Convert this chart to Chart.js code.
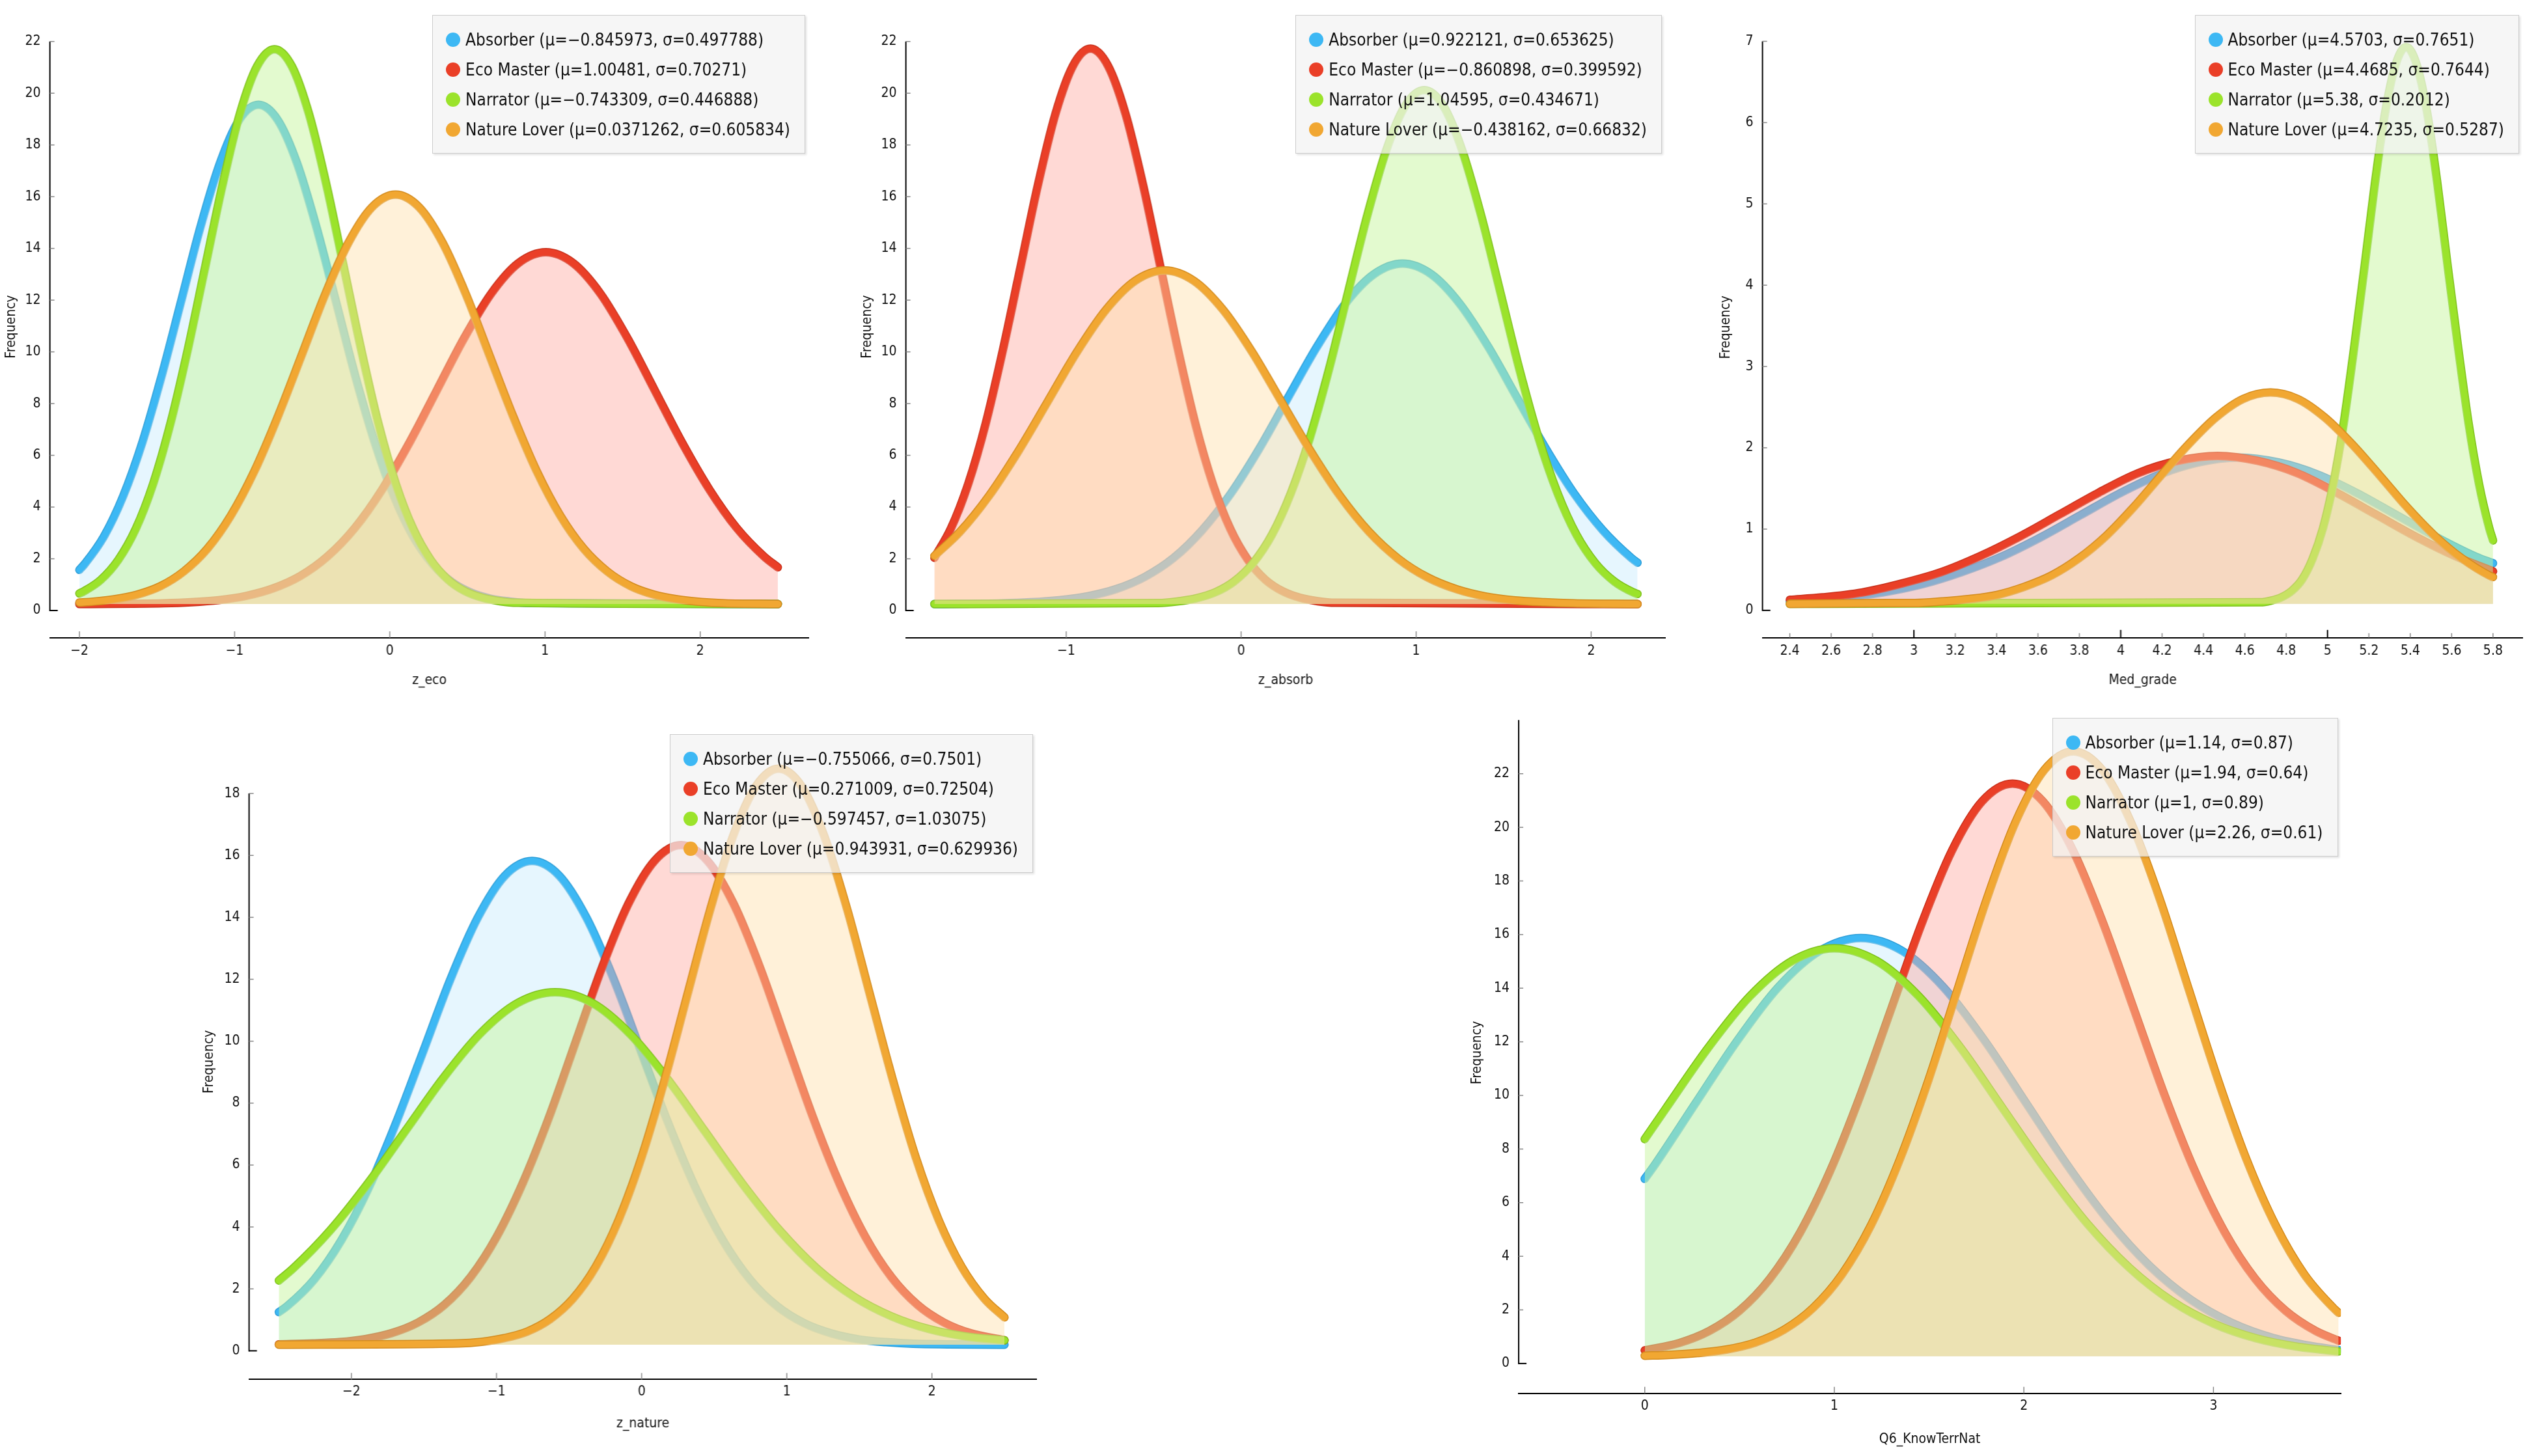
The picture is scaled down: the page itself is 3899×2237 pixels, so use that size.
<!DOCTYPE html>
<html>
<head>
<meta charset="utf-8">
<script src="https://cdn.jsdelivr.net/npm/chart.js@4.4.1/dist/chart.umd.min.js"></script>
<style>
  html, body { margin: 0; padding: 0; background: #fff; overflow: hidden; }
  #stage { position: relative; width: 3899px; height: 2237px; }
  .panel { position: absolute; }
  .legend {
    position: absolute;
    background: rgba(243, 243, 243, 0.72);
    border: 1px solid rgba(200, 200, 200, 0.9);
    box-shadow: 2px 2px 3px rgba(0, 0, 0, 0.12);
    padding: 14px 22px 13px 20px;
    font-family: 'DejaVu Sans Condensed', 'DejaVu Sans', sans-serif;
    font-stretch: condensed;
    font-size: 26px;
    color: #111;
  }
  .legend .row { height: 46px; display: flex; align-items: center; white-space: nowrap; }
  .legend .dot { width: 22px; height: 22px; border-radius: 50%; margin-right: 8px; flex: none; }
</style>
</head>
<body>
<div id="stage"></div>
<script>
// ---- data ----
const groups = ['Absorber', 'Eco Master', 'Narrator', 'Nature Lover'];

// z_eco
const zEcoMu = ['\u22120.845973', '1.00481', '\u22120.743309', '0.0371262'];
const zEcoSigma = ['0.497788', '0.70271', '0.446888', '0.605834'];
const zEcoX = [
  [-2, -1.967, -1.842, -1.718, -1.593, -1.469, -1.344, -1.220, -1.095, -0.971, -0.846, -0.722, -0.597, -0.473, -0.348, -0.224, -0.099, 0.026, 0.150, 0.275, 0.399, 0.523, 0.648, 0.772, 0.897, 2.5],
  [-2, -1.456, -1.280, -1.104, -0.928, -0.753, -0.577, -0.401, -0.225, -0.050, 0.126, 0.302, 0.478, 0.653, 0.829, 1.005, 1.181, 1.357, 1.532, 1.708, 1.884, 2.060, 2.235, 2.411, 2.5],
  [-2, -1.972, -1.861, -1.749, -1.637, -1.525, -1.414, -1.302, -1.190, -1.078, -0.967, -0.855, -0.743, -0.631, -0.520, -0.408, -0.296, -0.184, -0.073, 0.039, 0.151, 0.263, 0.375, 0.486, 0.598, 0.710, 0.822, 2.5],
  [-2, -1.933, -1.781, -1.630, -1.478, -1.327, -1.175, -1.024, -0.872, -0.721, -0.569, -0.418, -0.266, -0.115, 0.037, 0.189, 0.340, 0.492, 0.643, 0.795, 0.946, 1.098, 1.249, 1.401, 1.552, 1.704, 1.855, 2.007, 2.158, 2.5]
];
const zEcoY = [
  [1.57, 1.79, 2.86, 4.42, 6.52, 9.09, 11.96, 14.82, 17.28, 18.96, 19.55, 18.96, 17.28, 14.82, 11.96, 9.09, 6.52, 4.42, 2.86, 1.79, 1.10, 0.69, 0.46, 0.35, 0.29, 0.25],
  [0.25, 0.28, 0.32, 0.40, 0.56, 0.85, 1.33, 2.09, 3.19, 4.67, 6.48, 8.50, 10.52, 12.25, 13.43, 13.85, 13.43, 12.25, 10.52, 8.50, 6.48, 4.67, 3.19, 2.09, 1.67],
  [0.66, 0.74, 1.19, 1.96, 3.15, 4.89, 7.21, 10.07, 13.26, 16.44, 19.18, 21.04, 21.70, 21.04, 19.18, 16.44, 13.26, 10.07, 7.21, 4.89, 3.15, 1.96, 1.19, 0.74, 0.49, 0.36, 0.30, 0.25],
  [0.31, 0.33, 0.43, 0.61, 0.94, 1.51, 2.39, 3.67, 5.39, 7.50, 9.85, 12.20, 14.22, 15.59, 16.08, 15.59, 14.22, 12.20, 9.85, 7.50, 5.39, 3.67, 2.39, 1.51, 0.94, 0.61, 0.43, 0.33, 0.28, 0.25]
];
const zEcoXTicks = [-2, -1, 0, 1, 2];
const zEcoYTicks = [0, 2, 4, 6, 8, 10, 12, 14, 16, 18, 20, 22];

// z_absorb
const zAbsorbMu = ['0.922121', '\u22120.860898', '1.04595', '\u22120.438162'];
const zAbsorbSigma = ['0.653625', '0.399592', '0.434671', '0.66832'];
const zAbsorbX = [
  [-1.753, -1.367, -1.204, -1.040, -0.877, -0.713, -0.550, -0.386, -0.223, -0.059, 0.105, 0.268, 0.432, 0.595, 0.759, 0.922, 1.086, 1.249, 1.413, 1.576, 1.740, 1.903, 2.067, 2.230, 2.265],
  [-1.753, -1.660, -1.560, -1.460, -1.361, -1.261, -1.161, -1.061, -0.961, -0.861, -0.761, -0.661, -0.561, -0.461, -0.361, -0.262, -0.162, -0.062, 0.038, 0.138, 0.238, 0.338, 0.438, 0.538, 2.265],
  [-1.753, -0.475, -0.367, -0.258, -0.149, -0.041, 0.068, 0.177, 0.285, 0.394, 0.503, 0.611, 0.720, 0.829, 0.937, 1.046, 1.155, 1.263, 1.372, 1.481, 1.589, 1.698, 1.807, 1.915, 2.024, 2.133, 2.241, 2.265],
  [-1.753, -1.607, -1.440, -1.273, -1.106, -0.939, -0.772, -0.605, -0.438, -0.271, -0.104, 0.063, 0.230, 0.397, 0.564, 0.731, 0.898, 1.065, 1.232, 1.399, 1.566, 1.733, 1.900, 2.265]
];
const zAbsorbY = [
  [0.25, 0.28, 0.32, 0.40, 0.55, 0.83, 1.30, 2.03, 3.10, 4.52, 6.27, 8.23, 10.18, 11.86, 13.00, 13.41, 13.00, 11.86, 10.18, 8.23, 6.27, 4.52, 3.10, 2.03, 1.85],
  [2.04, 3.15, 4.89, 7.22, 10.08, 13.27, 16.46, 19.20, 21.06, 21.72, 21.06, 19.20, 16.46, 13.27, 10.08, 7.22, 4.89, 3.15, 1.96, 1.19, 0.74, 0.49, 0.36, 0.30, 0.25],
  [0.25, 0.29, 0.35, 0.47, 0.70, 1.12, 1.83, 2.94, 4.55, 6.70, 9.35, 12.30, 15.25, 17.79, 19.51, 20.12, 19.51, 17.79, 15.25, 12.30, 9.35, 6.70, 4.55, 2.94, 1.83, 1.12, 0.70, 0.64],
  [2.11, 3.04, 4.44, 6.16, 8.07, 9.99, 11.63, 12.75, 13.15, 12.75, 11.63, 9.99, 8.07, 6.16, 4.44, 3.04, 2.00, 1.28, 0.82, 0.54, 0.39, 0.32, 0.28, 0.25]
];
const zAbsorbXTicks = [-1, 0, 1, 2];
const zAbsorbYTicks = [0, 2, 4, 6, 8, 10, 12, 14, 16, 18, 20, 22];

// Med_grade
const medMu = ['4.5703', '4.4685', '5.38', '4.7235'];
const medSigma = ['0.7651', '0.7644', '0.2012', '0.5287'];
const medX = [
  [2.4, 2.466, 2.658, 2.849, 3.040, 3.231, 3.423, 3.614, 3.805, 3.996, 4.188, 4.379, 4.570, 4.762, 4.953, 5.144, 5.335, 5.527, 5.718, 5.8],
  [2.4, 2.558, 2.749, 2.940, 3.131, 3.322, 3.513, 3.704, 3.895, 4.086, 4.277, 4.469, 4.660, 4.851, 5.042, 5.233, 5.424, 5.615, 5.8],
  [2.4, 4.676, 4.726, 4.776, 4.827, 4.877, 4.927, 4.978, 5.028, 5.078, 5.128, 5.179, 5.229, 5.279, 5.330, 5.380, 5.430, 5.481, 5.531, 5.581, 5.632, 5.682, 5.732, 5.782, 5.8],
  [2.4, 2.873, 3.005, 3.137, 3.270, 3.402, 3.534, 3.666, 3.798, 3.931, 4.063, 4.195, 4.327, 4.459, 4.591, 4.724, 4.856, 4.988, 5.120, 5.252, 5.384, 5.517, 5.649, 5.781, 5.8]
];
const medY = [
  [0.11, 0.12, 0.16, 0.22, 0.32, 0.47, 0.66, 0.90, 1.17, 1.44, 1.67, 1.82, 1.88, 1.82, 1.67, 1.44, 1.17, 0.90, 0.66, 0.58],
  [0.13, 0.16, 0.22, 0.33, 0.47, 0.67, 0.91, 1.18, 1.45, 1.69, 1.84, 1.90, 1.84, 1.69, 1.45, 1.18, 0.91, 0.67, 0.48],
  [0.08, 0.10, 0.12, 0.16, 0.24, 0.38, 0.63, 1.01, 1.56, 2.30, 3.22, 4.23, 5.25, 6.13, 6.72, 6.93, 6.72, 6.13, 5.25, 4.23, 3.22, 2.30, 1.56, 1.01, 0.86],
  [0.08, 0.09, 0.09, 0.11, 0.14, 0.19, 0.29, 0.43, 0.64, 0.92, 1.27, 1.66, 2.04, 2.37, 2.60, 2.68, 2.60, 2.37, 2.04, 1.66, 1.27, 0.92, 0.64, 0.43, 0.41]
];
const medXTicks = [2.4, 2.6, 2.8, 3, 3.2, 3.4, 3.6, 3.8, 4, 4.2, 4.4, 4.6, 4.8, 5, 5.2, 5.4, 5.6, 5.8];
const medYTicks = [0, 1, 2, 3, 4, 5, 6, 7];

// z_nature
const zNatureMu = ['\u22120.755066', '0.271009', '\u22120.597457', '0.943931'];
const zNatureSigma = ['0.7501', '0.72504', '1.03075', '0.629936'];
const zNatureX = [
  [-2.5, -2.443, -2.255, -2.068, -1.880, -1.693, -1.505, -1.318, -1.130, -0.943, -0.755, -0.567, -0.380, -0.192, -0.005, 0.183, 0.370, 0.558, 0.745, 0.933, 1.120, 1.308, 1.495, 1.683, 1.870, 2.5],
  [-2.5, -2.267, -2.085, -1.904, -1.723, -1.542, -1.360, -1.179, -0.998, -0.817, -0.635, -0.454, -0.273, -0.092, 0.090, 0.271, 0.452, 0.634, 0.815, 0.996, 1.177, 1.359, 1.540, 1.721, 1.902, 2.084, 2.265, 2.5],
  [-2.5, -2.401, -2.144, -1.886, -1.628, -1.370, -1.113, -0.855, -0.597, -0.339, -0.082, 0.176, 0.434, 0.692, 0.949, 1.207, 1.465, 1.723, 1.980, 2.238, 2.5],
  [-2.5, -1.261, -1.104, -0.946, -0.789, -0.631, -0.474, -0.316, -0.159, -0.001, 0.157, 0.314, 0.472, 0.629, 0.787, 0.944, 1.102, 1.259, 1.417, 1.574, 1.732, 1.889, 2.047, 2.204, 2.362, 2.5]
];
const zNatureY = [
  [1.25, 1.44, 2.31, 3.58, 5.27, 7.35, 9.67, 11.99, 13.98, 15.34, 15.82, 15.34, 13.98, 11.99, 9.67, 7.35, 5.27, 3.58, 2.31, 1.44, 0.89, 0.56, 0.37, 0.28, 0.23, 0.20],
  [0.21, 0.24, 0.28, 0.38, 0.57, 0.91, 1.48, 2.38, 3.69, 5.44, 7.58, 9.98, 12.38, 14.43, 15.83, 16.33, 15.83, 14.43, 12.38, 9.98, 7.58, 5.44, 3.69, 2.38, 1.48, 0.91, 0.57, 0.34],
  [2.27, 2.66, 3.90, 5.41, 7.10, 8.79, 10.24, 11.23, 11.58, 11.23, 10.24, 8.79, 7.10, 5.41, 3.90, 2.66, 1.74, 1.11, 0.70, 0.46, 0.34],
  [0.20, 0.24, 0.29, 0.41, 0.62, 1.02, 1.68, 2.72, 4.22, 6.24, 8.72, 11.48, 14.24, 16.61, 18.23, 18.80, 18.23, 16.61, 14.24, 11.48, 8.72, 6.24, 4.22, 2.72, 1.68, 1.08]
];
const zNatureXTicks = [-2, -1, 0, 1, 2];
const zNatureYTicks = [0, 2, 4, 6, 8, 10, 12, 14, 16, 18];

// Q6_KnowTerrNat
const q6Mu = ['1.14', '1.94', '1', '2.26'];
const q6Sigma = ['0.87', '0.64', '0.89', '0.61'];
const q6X = [
  [0, 0.053, 0.270, 0.488, 0.705, 0.923, 1.140, 1.358, 1.575, 1.793, 2.010, 2.228, 2.445, 2.663, 2.880, 3.098, 3.315, 3.533, 3.66],
  [0, 0.180, 0.340, 0.500, 0.660, 0.820, 0.980, 1.140, 1.300, 1.460, 1.620, 1.780, 1.940, 2.100, 2.260, 2.420, 2.580, 2.740, 2.900, 3.060, 3.220, 3.380, 3.540, 3.66],
  [0, 0.110, 0.333, 0.555, 0.778, 1.000, 1.223, 1.445, 1.668, 1.890, 2.113, 2.335, 2.558, 2.780, 3.003, 3.225, 3.448, 3.66],
  [0, 0.125, 0.278, 0.430, 0.583, 0.735, 0.888, 1.040, 1.193, 1.345, 1.498, 1.650, 1.803, 1.955, 2.108, 2.260, 2.413, 2.565, 2.718, 2.870, 3.023, 3.175, 3.328, 3.480, 3.633, 3.66]
];
const q6Y = [
  [6.89, 7.41, 9.73, 12.04, 14.04, 15.39, 15.87, 15.39, 14.04, 12.04, 9.73, 7.41, 5.34, 3.64, 2.38, 1.51, 0.95, 0.63, 0.50],
  [0.49, 0.76, 1.21, 1.97, 3.16, 4.89, 7.21, 10.05, 13.22, 16.39, 19.12, 20.97, 21.63, 20.97, 19.12, 16.39, 13.22, 10.05, 7.21, 4.89, 3.16, 1.97, 1.21, 0.85],
  [8.37, 9.50, 11.76, 13.70, 15.02, 15.49, 15.02, 13.70, 11.76, 9.50, 7.24, 5.21, 3.56, 2.33, 1.48, 0.94, 0.62, 0.45],
  [0.29, 0.32, 0.39, 0.52, 0.78, 1.26, 2.07, 3.32, 5.15, 7.60, 10.60, 13.95, 17.30, 20.18, 22.14, 22.83, 22.14, 20.18, 17.30, 13.95, 10.60, 7.60, 5.15, 3.32, 2.07, 1.89]
];
const q6XTicks = [0, 1, 2, 3];
const q6YTicks = [0, 2, 4, 6, 8, 10, 12, 14, 16, 18, 20, 22];

// ---- styles ----
const lineColors = ['#3db8f4', '#ea3f27', '#9be32b', '#f1a732'];
const rimColors = ['#2f9fd8', '#c9321d', '#7fc21d', '#d48c1f'];
const fillColors = [
  'rgba(200, 236, 252, 0.45)',
  'rgba(255, 160, 150, 0.40)',
  'rgba(200, 245, 160, 0.50)',
  'rgba(255, 225, 170, 0.45)'
];
const FONT = "'DejaVu Sans Condensed', 'DejaVu Sans', sans-serif";
const HALF_LINE = 12.6;   // half of the 21px label line height
const PAD_TOP = 30, PAD_RIGHT = 24;

// panel geometry in page pixels
const panels = [
  { title: 'z_eco', mu: zEcoMu, sigma: zEcoSigma, xs: zEcoX, ys: zEcoY, xTicks: zEcoXTicks, yTicks: zEcoYTicks,
    base: 0.25, xMin: -2.19, xMax: 2.70, yTop: 22, yMax: 23,
    axisX: 77, axisR: 1242, zeroPx: 938, ppu: 39.74, axisY: 980, yTitleX: 18, xLabelY: 1000.7, xTitleY: 1045.8, legendTop: 23 },
  { title: 'z_absorb', mu: zAbsorbMu, sigma: zAbsorbSigma, xs: zAbsorbX, ys: zAbsorbY, xTicks: zAbsorbXTicks, yTicks: zAbsorbYTicks,
    base: 0.25, xMin: -1.916, xMax: 2.425, yTop: 22, yMax: 23,
    axisX: 1392, axisR: 2558, zeroPx: 938, ppu: 39.74, axisY: 980, yTitleX: 1333, xLabelY: 1000.7, xTitleY: 1045.7, legendTop: 23 },
  { title: 'Med_grade', mu: medMu, sigma: medSigma, xs: medX, ys: medY, xTicks: medXTicks, yTicks: medYTicks,
    base: 0.08, xMin: 2.268, xMax: 5.944, yTop: 7, yMax: 7.3, minorX: true,
    axisX: 2708, axisR: 3875, zeroPx: 938, ppu: 124.9, axisY: 980, yTitleX: 2652, xLabelY: 1000.7, xTitleY: 1045.7, legendTop: 23 },
  { title: 'z_nature', mu: zNatureMu, sigma: zNatureSigma, xs: zNatureX, ys: zNatureY, xTicks: zNatureXTicks, yTicks: zNatureYTicks,
    base: 0.2, xMin: -2.705, xMax: 2.722, yTop: 18, yMax: 19.6,
    axisX: 383, axisR: 1592, zeroPx: 2075, ppu: 47.57, axisY: 2119, yTitleX: 322, xLabelY: 2138.6, xTitleY: 2187.5, legendTop: 1128 },
  { title: 'Q6_KnowTerrNat', mu: q6Mu, sigma: q6Sigma, xs: q6X, ys: q6Y, xTicks: q6XTicks, yTicks: q6YTicks,
    base: 0.27, xMin: -0.665, xMax: 3.672, yTop: 24, yMax: 24.3,
    axisX: 2333.5, axisR: 3596.5, zeroPx: 2095, ppu: 41.19, axisY: 2140.8, yTitleX: 2270, xLabelY: 2160.5, xTitleY: 2211.5, legendTop: 1103 }
];

function fmt(v) {
  const s = Number.isInteger(v) ? String(v) : v.toFixed(1);
  return s.replace('-', '\u2212');
}

// y axis line from 0 to the top value, ticks pointing inward
const axisLines = {
  id: 'axisLines',
  afterDraw(chart, args, opts) {
    const { ctx, chartArea } = chart;
    const xs = chart.scales.x, ys = chart.scales.y;
    const x0 = chartArea.left;
    const y0 = ys.getPixelForValue(0);
    ctx.save();
    ctx.lineCap = 'butt';
    ctx.strokeStyle = '#000';
    ctx.lineWidth = 2;
    ctx.beginPath();
    ctx.moveTo(x0, y0 + 1);
    ctx.lineTo(x0, ys.getPixelForValue(opts.top));
    ctx.stroke();
    ys.ticks.forEach(t => {
      const y = ys.getPixelForValue(t.value);
      const zero = t.value === 0;
      ctx.strokeStyle = zero ? '#000' : '#888';
      ctx.lineWidth = zero ? 2 : 1.5;
      ctx.beginPath();
      ctx.moveTo(x0, y);
      ctx.lineTo(x0 + (zero ? 12 : 7), y);
      ctx.stroke();
    });
    const yb = chartArea.bottom;
    xs.ticks.forEach(t => {
      const x = xs.getPixelForValue(t.value);
      const major = opts.minorX && Number.isInteger(t.value);
      ctx.strokeStyle = major ? '#000' : '#888';
      ctx.lineWidth = major ? 2 : 1.5;
      ctx.beginPath();
      ctx.moveTo(x, yb);
      ctx.lineTo(x, yb - (major ? 12 : (opts.minorX ? 7 : 10)));
      ctx.stroke();
    });
    ctx.restore();
  }
};

const stage = document.getElementById('stage');

panels.forEach(p => {
  const yw = p.axisX - p.yTitleX + HALF_LINE;
  const areaTop = p.zeroPx - p.yMax * p.ppu;
  const left = p.axisX - yw;
  const top = areaTop - PAD_TOP;
  const bottom = p.xTitleY + HALF_LINE;
  const xh = bottom - p.axisY;
  const yMin = -(p.axisY - p.zeroPx) / p.ppu;

  const box = document.createElement('div');
  box.className = 'panel';
  box.style.left = left + 'px';
  box.style.top = top + 'px';
  box.style.width = (p.axisR + PAD_RIGHT - left) + 'px';
  box.style.height = (bottom - top) + 'px';
  const canvas = document.createElement('canvas');
  box.appendChild(canvas);
  stage.appendChild(box);

  const datasets = [];
  groups.forEach((g, i) => {
    const pts = p.xs[i].map((x, j) => ({ x: x, y: p.ys[i][j] }));
    const order = (groups.length - i) * 2;
    // darker rim drawn just under each curve
    datasets.push({
      label: g + ' rim',
      data: pts,
      borderColor: rimColors[i],
      borderWidth: 13,
      borderCapStyle: 'round',
      borderJoinStyle: 'round',
      pointRadius: 0,
      cubicInterpolationMode: 'monotone',
      fill: false,
      order: order + 1
    });
    datasets.push({
      label: g,
      data: pts,
      borderColor: lineColors[i],
      backgroundColor: fillColors[i],
      borderWidth: 10,
      borderCapStyle: 'round',
      borderJoinStyle: 'round',
      pointRadius: 0,
      cubicInterpolationMode: 'monotone',
      fill: { value: p.base },
      order: order
    });
  });

  new Chart(canvas, {
    type: 'line',
    data: { datasets },
    options: {
      responsive: true,
      maintainAspectRatio: false,
      animation: false,
      layout: { padding: { top: PAD_TOP, right: PAD_RIGHT, left: 0, bottom: 0 } },
      plugins: {
        legend: { display: false },
        tooltip: { enabled: false },
        axisLines: { top: p.yTop, minorX: !!p.minorX }
      },
      scales: {
        x: {
          type: 'linear',
          min: p.xMin,
          max: p.xMax,
          bounds: 'data',
          grid: { display: false, drawTicks: false },
          border: { display: true, color: '#000', width: 2 },
          afterBuildTicks: s => { s.ticks = p.xTicks.map(v => ({ value: v })); },
          afterFit: s => { s.height = xh; },
          ticks: {
            padding: p.xLabelY - p.axisY - HALF_LINE,
            color: '#111',
            font: { family: FONT, size: 21 },
            maxRotation: 0,
            autoSkip: false,
            callback: v => fmt(v)
          },
          title: {
            display: true,
            text: p.title,
            color: '#111',
            font: { family: FONT, size: 21 },
            padding: { top: 0, bottom: 0 }
          }
        },
        y: {
          type: 'linear',
          min: yMin,
          max: p.yMax,
          bounds: 'data',
          grid: { display: false, drawTicks: false },
          border: { display: false },
          afterBuildTicks: s => { s.ticks = p.yTicks.map(v => ({ value: v })); },
          afterFit: s => { s.width = yw; },
          ticks: {
            padding: 14,
            color: '#111',
            font: { family: FONT, size: 21 },
            autoSkip: false,
            callback: v => fmt(v)
          },
          title: {
            display: true,
            text: 'Frequency',
            color: '#111',
            font: { family: FONT, size: 21 },
            padding: { top: 0, bottom: 0 }
          }
        }
      }
    },
    plugins: [axisLines]
  });

  // legend box with the group means and deviations
  const leg = document.createElement('div');
  leg.className = 'legend';
  leg.style.right = (3899 - (p.axisR - 5)) + 'px';
  leg.style.top = p.legendTop + 'px';
  groups.forEach((g, i) => {
    const row = document.createElement('div');
    row.className = 'row';
    const dot = document.createElement('span');
    dot.className = 'dot';
    dot.style.background = lineColors[i];
    const txt = document.createElement('span');
    txt.textContent = g + ' (\u03bc=' + p.mu[i] + ', \u03c3=' + p.sigma[i] + ')';
    row.appendChild(dot);
    row.appendChild(txt);
    leg.appendChild(row);
  });
  stage.appendChild(leg);
});
</script>
</body>
</html>
